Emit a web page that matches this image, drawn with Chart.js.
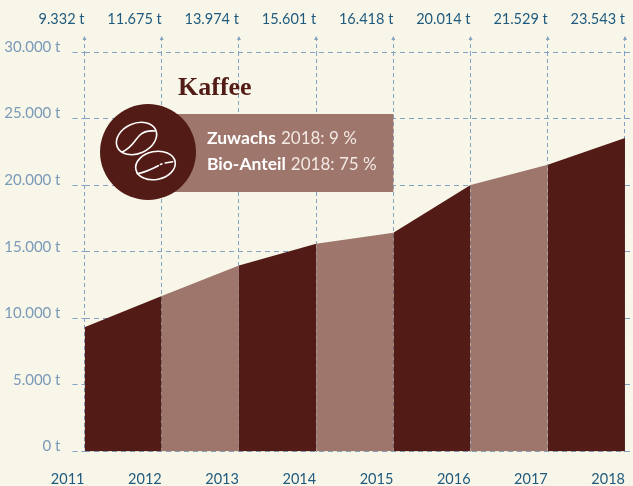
<!DOCTYPE html>
<html lang="de">
<head>
<meta charset="utf-8">
<title>Kaffee</title>
<script src="https://cdn.jsdelivr.net/npm/chart.js@4"></script>
<style>
  html, body { margin: 0; padding: 0; background: #f8f6e9; }
  #wrap { position: relative; width: 633px; height: 486px; }
  canvas { display: block; }
</style>
</head>
<body>
<div id="wrap"><canvas id="chart" width="633" height="486"></canvas></div>
<script>
// Kaffee imports in tonnes per year
const years = [2011, 2012, 2013, 2014, 2015, 2016, 2017, 2018];
const tonnes = [9332, 11675, 13974, 15601, 16418, 20014, 21529, 23543];
const yTicks = [0, 5000, 10000, 15000, 20000, 25000, 30000];
const title = 'Kaffee';
const infoLines = [['Zuwachs', '2018: 9 %'], ['Bio-Anteil', '2018: 75 %']];

const DARK = '#521b15';
const LIGHT = '#9e766c';
const CREAM = '#f8f6e9';
const GRID = '#82a3c4';
const AXIS_TEXT = '#1f5a7e';
const Y_TEXT = '#7a9ab8';
const SANS = 'Lato, "Noto Sans", sans-serif';
const SERIF = '"Liberation Serif", "DejaVu Serif", serif';

const fmt = v => v.toLocaleString('de-DE') + ' t';

// Bean outline with its centre crease, in a local coordinate frame
function drawBean(ctx, cx, cy, rx, ry, rot, crease) {
  ctx.save();
  ctx.translate(cx, cy);
  ctx.rotate(rot);
  ctx.beginPath();
  ctx.ellipse(0, 0, rx, ry, 0, 0, Math.PI * 2);
  ctx.stroke();
  ctx.beginPath();
  crease(ctx);
  ctx.stroke();
  ctx.restore();
}

// Info panel, round badge and heading over the plot
const overlay = {
  id: 'overlay',
  afterDraw(chart) {
    const { ctx } = chart;
    const right = chart.scales.x.getPixelForValue(2015);
    ctx.save();
    ctx.fillStyle = LIGHT;
    ctx.fillRect(165, 114, right - 165, 78);

    ctx.fillStyle = DARK;
    ctx.beginPath();
    ctx.arc(148, 152, 48, 0, Math.PI * 2);
    ctx.fill();

    ctx.strokeStyle = '#fff';
    ctx.lineWidth = 1.6;
    ctx.lineCap = 'round';
    drawBean(ctx, 136.5, 138.5, 21, 15, -0.42, c => {
      c.moveTo(-18.8, 6.4);
      c.bezierCurveTo(-8, 7, -3, 1, 4.6, -1.8);
      c.bezierCurveTo(9, -3.5, 15, -2, 19.9, 0.6);
    });
    drawBean(ctx, 155.5, 165.5, 20, 14, -0.2, c => {
      c.moveTo(-19.5, 4.4);
      c.bezierCurveTo(-12, 4.5, -5, 3, 2.7, 0.75);
      c.moveTo(5, -0.1);
      c.lineTo(6.5, -0.3);
      c.moveTo(10, -0.6);
      c.lineTo(17.6, -0.3);
    });

    ctx.fillStyle = DARK;
    ctx.font = 'bold 26px ' + SERIF;
    ctx.textAlign = 'left';
    ctx.textBaseline = 'alphabetic';
    ctx.fillText(title, 178, 95);

    infoLines.forEach(([head, rest], i) => {
      const y = 143.5 + i * 26.5;
      ctx.fillStyle = '#fff';
      ctx.font = 'bold 17.5px ' + SANS;
      ctx.fillText(head, 207, y);
      const w = ctx.measureText(head).width;
      ctx.font = '17px ' + SANS;
      ctx.fillStyle = '#f3e9e4';
      ctx.fillText(rest, 207 + w + 5, y);
    });
    ctx.restore();
  }
};

// Little arrow tips on top of the vertical guides
const guideTips = {
  id: 'guideTips',
  afterDatasetsDraw(chart) {
    const { ctx, scales } = chart;
    const top = scales.top.bottom - 15;
    ctx.save();
    ctx.fillStyle = GRID;
    years.forEach(y => {
      const x = scales.top.getPixelForValue(y);
      ctx.beginPath();
      ctx.moveTo(x, top - 1);
      ctx.lineTo(x + 2, top + 3);
      ctx.lineTo(x - 2, top + 3);
      ctx.closePath();
      ctx.fill();
    });
    ctx.restore();
  }
};

// The tick labels end at their guide, so the axes need no side padding
const fitX = height => s => {
  s.height = height;
  s.paddingLeft = 0;
  s.paddingRight = 0;
};

const xCommon = {
  type: 'linear',
  min: years[0],
  max: 2018.104,
  offset: false
};

new Chart(document.getElementById('chart'), {
  type: 'line',
  data: {
    datasets: [{
      data: years.map((y, i) => ({ x: y, y: tonnes[i] })),
      fill: 'origin',
      tension: 0,
      borderWidth: 0,
      pointRadius: 0,
      segment: {
        backgroundColor: c => (c.p0DataIndex % 2 === 0 ? DARK : LIGHT),
        borderColor: c => (c.p0DataIndex % 2 === 0 ? DARK : LIGHT)
      }
    }]
  },
  plugins: [
    { id: 'paper', beforeDraw(c) { c.ctx.save(); c.ctx.fillStyle = CREAM; c.ctx.fillRect(0, 0, c.width, c.height); c.ctx.restore(); } },
    guideTips,
    overlay
  ],
  options: {
    responsive: false,
    animation: false,
    layout: { padding: 0 },
    plugins: { legend: { display: false }, tooltip: { enabled: false }, title: { display: false } },
    scales: {
      x: {
        ...xCommon,
        position: 'bottom',
        afterFit: fitX(34.5),
        afterBuildTicks: s => { s.ticks = years.map(value => ({ value })); },
        grid: { color: GRID, lineWidth: 1, drawTicks: false },
        border: { display: false, dash: [4, 3] },
        ticks: {
          autoSkip: false, maxRotation: 0, align: 'end', padding: 19,
          color: AXIS_TEXT, font: { family: SANS, size: 14.5 },
          callback: v => String(v)
        }
      },
      top: {
        ...xCommon,
        position: 'top',
        afterFit: fitX(52),
        afterBuildTicks: s => { s.ticks = years.map(value => ({ value })); },
        border: { display: false },
        grid: { drawOnChartArea: false, drawTicks: true, tickLength: 15, tickColor: GRID, tickWidth: 1, tickBorderDash: [4, 3] },
        ticks: {
          autoSkip: false, maxRotation: 0, align: 'end', padding: 9,
          color: AXIS_TEXT, font: { family: SANS, size: 14.5 },
          callback: v => fmt(tonnes[years.indexOf(v)])
        }
      },
      y: {
        type: 'linear',
        min: 0,
        max: 30000,
        position: 'left',
        afterFit: s => { s.width = 84.5; },
        afterBuildTicks: s => { s.ticks = yTicks.map(value => ({ value })); },
        border: { display: false, dash: [5, 4] },
        grid: { color: GRID, lineWidth: 1, tickLength: 12, tickColor: GRID, tickBorderDash: [5, 4] },
        ticks: {
          padding: 12, labelOffset: -5,
          color: Y_TEXT, font: { family: SANS, size: 15 },
          callback: v => fmt(v)
        }
      }
    }
  }
});
</script>
</body>
</html>
